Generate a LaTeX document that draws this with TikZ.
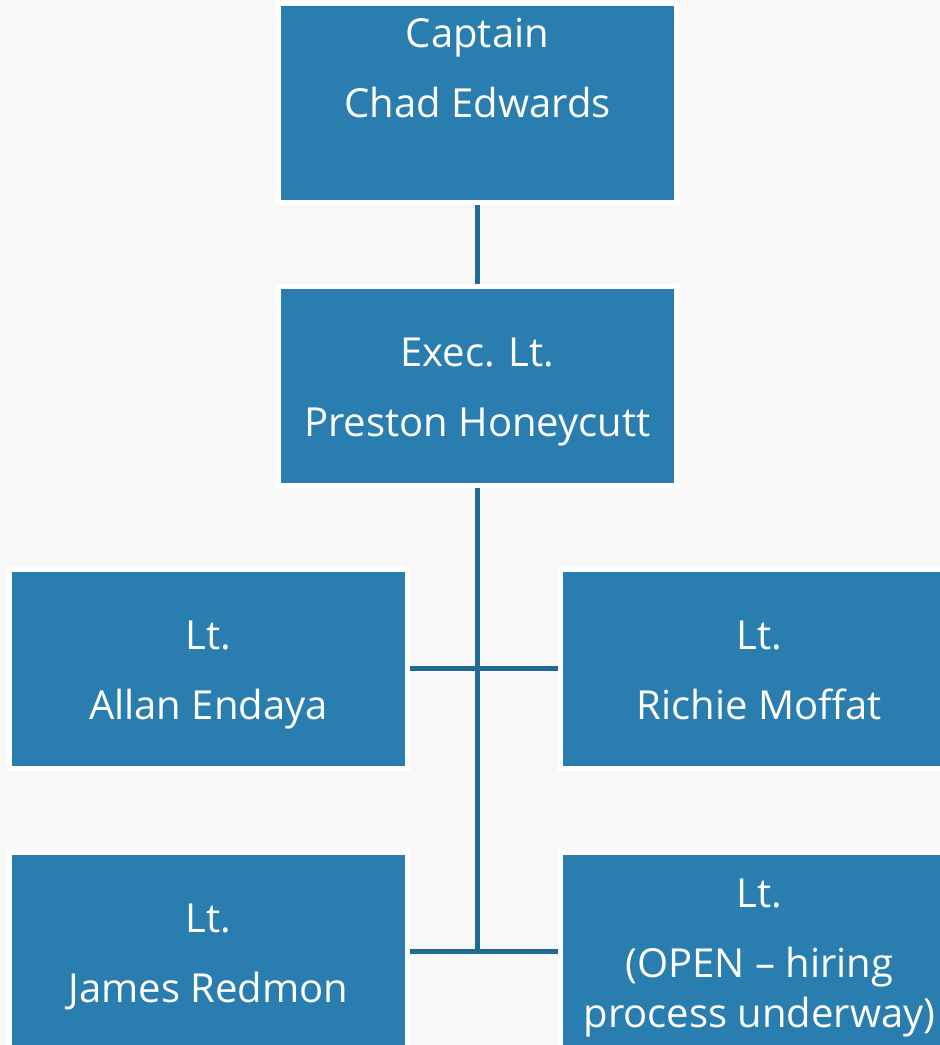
\documentclass[tikz,border=0pt]{standalone}
\usepackage{fontspec}
\setmainfont{Open Sans}
\usepackage{tikz}

\definecolor{unitblue}{RGB}{42,126,175}
\definecolor{linkblue}{RGB}{32,106,148}
\definecolor{pagegray}{RGB}{248,248,248}
\newcommand{\lift}{\rule{0pt}{20.5pt}}
\newcommand{\drop}{\rule[-5pt]{0pt}{5pt}}

\begin{document}
\begin{tikzpicture}[x=0.5pt,y=-0.5pt,
    unit/.style={rectangle,fill=unitblue,draw=white,line width=2.5pt,
      minimum width=199pt,minimum height=99.5pt,inner sep=0pt,
      align=center,text=white,font=\fontsize{20}{25}\selectfont},
    link/.style={draw=linkblue,line width=2.5pt}]
  \useasboundingbox (0,0) rectangle (940,1045);
  \fill[pagegray] (0,0) rectangle (940,1045);

  \node[unit] (capt) at (477.5,103) {Captain\\[10pt]Chad Edwards\\[10pt]\mbox{}};
  \node[unit] (exec) at (477.5,385.5) {\lift Exec. Lt.\\[10pt]Preston Honeycutt};
  \node[unit] (ltA) at (208.5,668.5) {\lift Lt.\\[10pt]Allan Endaya};
  \node[unit] (ltB) at (759.5,668.5) {\lift Lt.\\[10pt]Richie Moffat\drop};
  \node[unit] (ltC) at (208.5,951.5) {\lift Lt.\\[10pt]James Redmon\drop};
  \node[unit] (ltD) at (759.5,951.5) {\lift Lt.\\[10pt](OPEN -- hiring\\process underway)};

  \coordinate (trunk) at (exec.south |- ltC.east);
  \draw[link] (capt.south) -- (exec.north);
  \draw[link] (exec.south) -- (trunk);
  \draw[link] (ltA.east) -- (ltB.west);
  \draw[link] (ltC.east) -- (ltD.west);
\end{tikzpicture}
\end{document}
